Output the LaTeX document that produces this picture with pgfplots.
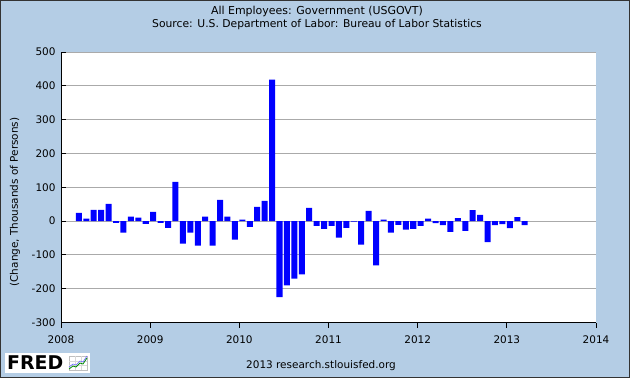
\documentclass[border=0pt]{standalone}
\usepackage{pgfplots}
\usepackage{pgfplotstable}
\pgfplotsset{compat=1.18}
\usepackage{fontspec}
\setmainfont{DejaVu Sans}
\definecolor{fredbg}{RGB}{180,205,229}
\definecolor{fredgrid}{RGB}{170,170,170}
\definecolor{fredblue}{RGB}{0,0,255}
\pgfplotstableread{
m v
2 24
3 7
4 33
5 33
6 51
7 -5
8 -34
9 13
10 10
11 -8
12 27
13 -5
14 -20
15 116
16 -67
17 -34
18 -73
19 13
20 -73
21 63
22 13
23 -55
24 4
25 -17
26 42
27 60
28 418
29 -225
30 -190
31 -170
32 -158
33 39
34 -14
35 -23
36 -14
37 -49
38 -20
39 -2
40 -70
41 30
42 -131
43 4
44 -34
45 -11
46 -25
47 -23
48 -14
49 7
50 -6
51 -12
52 -32
53 9
54 -29
55 32
56 18
57 -62
58 -12
59 -9
60 -21
61 12
62 -12
}\govt
\begin{document}
\begin{tikzpicture}[x=1bp,y=1bp]
\fill[fredbg] (0,0) rectangle (630,378);
\draw[black!80,line width=1bp] (0.5,0.5) rectangle (629.5,377.5);
\node[font=\fontsize{11}{12}\selectfont] at (317,366.5) {All Employees: Government (USGOVT)};
\node[font=\fontsize{10.8}{12}\selectfont] at (317,353) {Source: U.S. Department of Labor: Bureau of Labor Statistics};
\node[font=\fontsize{10.5}{12}\selectfont,rotate=90] at (15,176) {(Change, Thousands of Persons)};
\node[font=\fontsize{10.5}{12}\selectfont] at (321,12) {2013 research.stlouisfed.org};
% FRED logo
\fill[white] (5,5) rectangle (90,25);
\node[font=\fontsize{19}{20}\selectfont\bfseries,anchor=west,inner sep=0pt] at (7,15) {FRED};
\draw[black!25,line width=0.4bp] (69,8) rectangle (87,22);
\draw[black!15,line width=0.3bp] (69,12.5) -- (87,12.5) (69,17) -- (87,17) (75,8) -- (75,22) (81,8) -- (81,22);
\draw[green!55!black,line width=0.8bp] (69,9) -- (73,12) -- (76,11) -- (80,15) -- (83,14) -- (87,20);
\draw[blue!60,line width=0.6bp] (69,11) -- (73,14) -- (76,13) -- (80,17) -- (83,16) -- (87,22);
\begin{axis}[
  at={(61bp,55.5bp)}, anchor=south west,
  width=535bp, height=270.5bp, scale only axis,
  axis background/.style={fill=white},
  xmin=0, xmax=72, ymin=-300, ymax=500,
  xtick={0,12,...,72}, xticklabels={2008,2009,2010,2011,2012,2013,2014},
  ytick={-300,-200,...,500},
  axis x line*=bottom, axis y line*=left,
  axis line style={black, line width=1bp},
  tick align=inside, major tick length=5bp,
  tick style={black, line width=1bp},
  ymajorgrids, grid style={fredgrid, line width=1bp},
  ticklabel style={font=\fontsize{10.5}{12}\selectfont},
  xticklabel style={yshift=-4.5bp},
  yticklabel style={xshift=-2bp},
  /pgf/number format/assume math mode=true,
  ybar, bar width=0.81,
]
\addplot[fill=fredblue, draw=none] table[x expr=\thisrow{m}+0.405, y=v] {\govt};
\end{axis}
\end{tikzpicture}
\end{document}
